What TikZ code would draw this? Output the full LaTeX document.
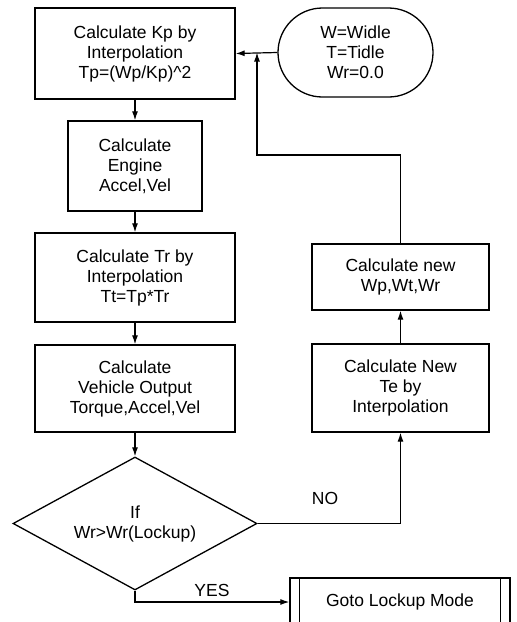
\documentclass[tikz,border=0pt]{standalone}
\usepackage{fontspec}
\setmainfont{Liberation Sans}
\usetikzlibrary{shapes.geometric,shapes.misc,arrows.meta}
\begin{document}
\begin{tikzpicture}[x=1pt,y=-1pt,
  every node/.style={font=\fontsize{17.5}{20}\selectfont},
  box/.style={draw,line width=1.3pt,align=center,inner sep=0pt},
  conn/.style={line width=1.2pt},
  arr/.style={conn,-{Latex[length=9pt,width=6pt]}},
  lbl/.style={inner sep=0pt}]
\useasboundingbox (0,0) rectangle (517,622);
\fill[white] (0,0) rectangle (517,622);
\node[box,minimum width=200pt,minimum height=91pt] (kp) at (135,53.5) {Calculate Kp by\\Interpolation\\Tp=(Wp/Kp)\textasciicircum 2};
\node[box,rounded rectangle,minimum width=155pt,minimum height=89pt] (term) at (355.5,52.5) {W=Widle\\T=Tidle\\Wr=0.0};
\node[box,minimum width=134pt,minimum height=90pt] (eng) at (135,166) {Calculate\\Engine\\Accel,Vel};
\node[box,minimum width=200pt,minimum height=89pt] (tr) at (135,277.5) {Calculate Tr by\\Interpolation\\Tt=Tp*Tr};
\node[box,minimum width=200pt,minimum height=87pt] (veh) at (135,388.5) {Calculate\\Vehicle Output\\Torque,Accel,Vel};
\node[box,diamond,shape aspect=1.835,minimum width=244pt,minimum height=133pt] (dia) at (135,523.5) {If\\Wr>Wr(Lockup)};
\node[box,minimum width=177pt,minimum height=66pt] (new) at (400.5,277) {Calculate new\\Wp,Wt,Wr};
\node[box,minimum width=177pt,minimum height=88pt] (te) at (400.5,388) {Calculate New\\Te by\\Interpolation};
\begin{scope}
\clip (0,0) rectangle (517,622);
\node[box,minimum width=220pt,minimum height=48pt] (lock) at (400,602) {Goto Lockup Mode};
\draw[line width=1.3pt] ([xshift=10pt]lock.north west) -- ([xshift=10pt]lock.south west)
  ([xshift=-10pt]lock.north east) -- ([xshift=-10pt]lock.south east);
\end{scope}
\coordinate (j) at (257,52.5);
\coordinate (loop) at (257,155);
\draw[arr] (term.west) -- (kp.east);
\draw[arr] (new.north) |- (loop) -- (j);
\draw[arr] (kp.south) -- (eng.north);
\draw[arr] (eng.south) -- (tr.north);
\draw[arr] (tr.south) -- (veh.north);
\draw[arr] (veh.south) -- (dia.north);
\draw[arr] (dia.east) -| (te.south);
\draw[arr] (te.north) -- (new.south);
\draw[arr] (dia.south) |- (lock.west);
\node[lbl] (no) at (325,498) {NO};
\node[lbl] (yes) at (212,590) {YES};
\end{tikzpicture}
\end{document}
